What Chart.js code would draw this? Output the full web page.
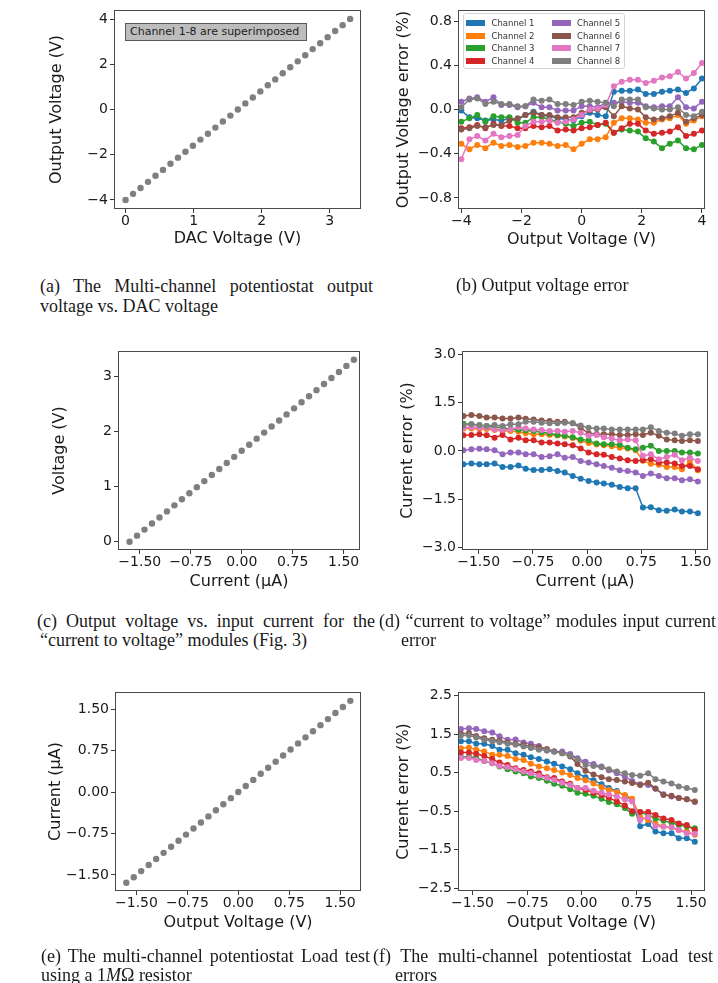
<!DOCTYPE html>
<html>
<head>
<meta charset="utf-8">
<script src="https://cdn.jsdelivr.net/npm/chart.js@4.4.0/dist/chart.umd.min.js"></script>
<style>
  body { margin:0; background:#fff; width:718px; height:983px; position:relative; overflow:hidden; }
  canvas { position:absolute; }
  .cap { position:absolute; font-family:"Liberation Serif", serif; font-size:18px; line-height:19px; color:#1a1a1a; white-space:nowrap; }
  .j { text-align:justify; text-align-last:justify; }
  #note { position:absolute; left:125px; top:23px; width:176px; height:16px; background:#bdbdbd; border:1px solid #5a5a5a;
          font-family:"DejaVu Sans", sans-serif; font-size:11px; line-height:16px; color:#222; padding-left:4px; box-sizing:content-box; }
  #legB { position:absolute; left:463px; top:13px; width:160px; height:54px; border:1px solid #d4d4d4; border-radius:3px; background:rgba(255,255,255,0.85); }
  .lp { position:absolute; width:19px; height:6px; }
  .lt { position:absolute; font-family:"DejaVu Sans", sans-serif; font-size:8.5px; color:#333; transform:translateY(-50%); white-space:nowrap; }
</style>
</head>
<body>
<canvas id="ca"></canvas>
<canvas id="cb"></canvas>
<canvas id="cc"></canvas>
<canvas id="cd"></canvas>
<canvas id="ce"></canvas>
<canvas id="cf"></canvas>

<div id="note">Channel 1-8 are superimposed</div>
<div id="legB"></div>

<div class="cap j" style="left:40px;top:277px;width:333px">(a) The Multi-channel potentiostat output</div>
<div class="cap" style="left:40px;top:297px">voltage vs. DAC voltage</div>
<div class="cap" style="left:456px;top:276px">(b) Output voltage error</div>

<div class="cap j" style="left:37px;top:612px;width:338px">(c) Output voltage vs. input current for the</div>
<div class="cap" style="left:40px;top:631px">“current to voltage” modules (Fig. 3)</div>
<div class="cap j" style="left:379px;top:612px;width:337px">(d) “current to voltage” modules input current</div>
<div class="cap" style="left:401px;top:631px">error</div>

<div class="cap j" style="left:41px;top:947px;width:329px">(e) The multi-channel potentiostat Load test</div>
<div class="cap" style="left:41px;top:966px">using a 1<i>M</i>Ω resistor</div>
<div class="cap j" style="left:373px;top:947px;width:340px">(f) The multi-channel potentiostat Load test</div>
<div class="cap" style="left:395px;top:966px">errors</div>

<script>
// (a) output voltage vs DAC voltage
const dacA = [0.00,0.11,0.22,0.33,0.44,0.55,0.66,0.77,0.88,0.99,1.10,1.21,1.32,1.43,1.54,1.65,1.76,1.87,1.98,2.09,2.20,2.31,2.42,2.53,2.64,2.75,2.86,2.97,3.08,3.19,3.30];
const outA = [-4.00,-3.73,-3.47,-3.20,-2.93,-2.67,-2.40,-2.13,-1.87,-1.60,-1.33,-1.07,-0.80,-0.53,-0.27,0.00,0.27,0.53,0.80,1.07,1.33,1.60,1.87,2.13,2.40,2.67,2.93,3.20,3.47,3.73,4.00];

// (b) output voltage error (%) per channel
const outB = [-4.00,-3.73,-3.47,-3.20,-2.93,-2.67,-2.40,-2.13,-1.87,-1.60,-1.33,-1.07,-0.80,-0.53,-0.27,0.00,0.27,0.53,0.80,1.07,1.33,1.60,1.87,2.13,2.40,2.67,2.93,3.20,3.47,3.73,4.00];
const b1 = [-0.01,-0.07,-0.08,-0.10,-0.09,-0.10,-0.08,-0.09,-0.05,-0.02,-0.05,-0.06,-0.08,-0.09,-0.10,-0.06,-0.03,-0.05,-0.06,0.16,0.17,0.17,0.18,0.14,0.14,0.16,0.17,0.18,0.15,0.19,0.28];
const b2 = [-0.31,-0.36,-0.32,-0.35,-0.30,-0.33,-0.32,-0.34,-0.33,-0.30,-0.30,-0.31,-0.33,-0.32,-0.36,-0.31,-0.27,-0.27,-0.25,-0.12,-0.08,-0.08,-0.09,-0.12,-0.12,-0.09,-0.08,-0.05,-0.13,-0.10,-0.06];
const b3 = [-0.11,-0.08,-0.05,-0.11,-0.06,-0.07,-0.07,-0.12,-0.12,-0.07,-0.07,-0.09,-0.11,-0.13,-0.15,-0.12,-0.11,-0.14,-0.13,-0.21,-0.18,-0.19,-0.20,-0.26,-0.29,-0.35,-0.31,-0.28,-0.35,-0.36,-0.32];
const b4 = [-0.17,-0.16,-0.14,-0.17,-0.13,-0.15,-0.15,-0.17,-0.17,-0.15,-0.16,-0.15,-0.19,-0.18,-0.19,-0.17,-0.16,-0.14,-0.12,-0.21,-0.17,-0.13,-0.13,-0.19,-0.22,-0.21,-0.20,-0.16,-0.24,-0.22,-0.19];
const b5 = [0.07,0.10,0.11,0.07,0.11,0.04,0.04,0.02,0.03,0.06,0.02,0.02,-0.01,-0.01,-0.01,0.03,0.03,0.02,0.06,0.06,0.07,0.06,0.06,0.03,0.02,0.03,0.03,0.11,0.02,0.01,0.07];
const b6 = [-0.18,-0.17,-0.15,-0.16,-0.14,-0.14,-0.10,-0.08,-0.05,-0.03,-0.05,-0.05,-0.07,-0.07,-0.07,-0.03,-0.01,0.00,0.02,-0.06,0.03,0.01,0.00,-0.07,-0.09,-0.08,-0.06,-0.03,-0.11,-0.08,-0.05];
const b7 = [-0.45,-0.27,-0.24,-0.28,-0.22,-0.25,-0.24,-0.23,-0.15,-0.11,-0.11,-0.10,-0.12,-0.11,-0.09,-0.05,0.00,0.01,0.04,0.21,0.25,0.27,0.27,0.24,0.26,0.29,0.30,0.34,0.28,0.33,0.42];
const b8 = [0.02,0.09,0.10,0.05,0.07,0.05,0.05,0.03,0.03,0.09,0.08,0.09,0.05,0.05,0.04,0.07,0.08,0.07,0.06,0.03,0.09,0.09,0.09,0.02,0.01,0.00,0.00,0.02,-0.05,-0.06,-0.02];

// (c) output voltage vs input current
const curC = [-1.65,-1.54,-1.43,-1.32,-1.21,-1.10,-0.99,-0.88,-0.77,-0.66,-0.55,-0.44,-0.33,-0.22,-0.11,0.00,0.11,0.22,0.33,0.44,0.55,0.66,0.77,0.88,0.99,1.10,1.21,1.32,1.43,1.54,1.65];
const voltC = [0.00,0.11,0.22,0.33,0.44,0.55,0.66,0.77,0.88,0.99,1.10,1.21,1.32,1.43,1.54,1.65,1.76,1.87,1.98,2.09,2.20,2.31,2.42,2.53,2.64,2.75,2.86,2.97,3.08,3.19,3.30];

// (d) input current error (%) per channel
const curD = [-1.71,-1.60,-1.49,-1.39,-1.28,-1.17,-1.06,-0.95,-0.85,-0.74,-0.63,-0.52,-0.41,-0.31,-0.20,-0.09,0.02,0.13,0.23,0.34,0.45,0.56,0.67,0.77,0.88,0.99,1.10,1.21,1.31,1.42,1.53];
const d1 = [-0.41,-0.39,-0.41,-0.41,-0.39,-0.50,-0.50,-0.45,-0.55,-0.59,-0.59,-0.57,-0.62,-0.67,-0.78,-0.86,-0.93,-0.98,-1.01,-1.05,-1.12,-1.16,-1.16,-1.76,-1.75,-1.84,-1.86,-1.82,-1.88,-1.88,-1.94];
const d2 = [0.70,0.70,0.68,0.68,0.65,0.62,0.62,0.60,0.55,0.52,0.52,0.50,0.48,0.45,0.40,0.32,0.25,0.20,0.18,0.15,0.10,0.08,0.02,-0.30,-0.40,-0.43,-0.50,-0.50,-0.57,-0.33,-0.60];
const d3 = [0.85,0.83,0.80,0.78,0.74,0.72,0.68,0.66,0.64,0.62,0.58,0.55,0.50,0.47,0.43,0.36,0.33,0.23,0.21,0.21,0.19,0.10,0.05,0.10,0.16,0.00,0.00,0.00,-0.05,-0.05,-0.08];
const d4 = [0.49,0.50,0.52,0.49,0.41,0.50,0.36,0.41,0.33,0.33,0.26,0.26,0.23,0.21,0.18,0.08,-0.05,-0.10,-0.12,-0.19,-0.23,-0.29,-0.31,-0.29,-0.26,-0.36,-0.36,-0.39,-0.47,-0.47,-0.57];
const d5 = [0.02,0.05,0.07,0.05,0.02,-0.10,-0.05,-0.05,-0.10,-0.10,-0.19,-0.16,-0.10,-0.21,-0.19,-0.31,-0.36,-0.41,-0.47,-0.52,-0.60,-0.62,-0.67,-0.78,-0.70,-0.78,-0.85,-0.85,-0.91,-0.88,-0.95];
const d6 = [1.09,1.12,1.09,1.04,1.04,1.01,1.01,1.04,1.00,0.98,0.95,0.93,0.91,0.91,0.86,0.72,0.55,0.53,0.52,0.52,0.50,0.50,0.52,0.50,0.57,0.47,0.36,0.33,0.31,0.33,0.31];
const d7 = [0.73,0.74,0.72,0.73,0.67,0.65,0.67,0.74,0.70,0.67,0.65,0.62,0.62,0.60,0.62,0.57,0.47,0.50,0.43,0.39,0.33,0.36,0.33,-0.15,-0.10,-0.26,-0.19,-0.12,-0.29,-0.21,-0.31];
const d8 = [0.81,0.83,0.81,0.78,0.81,0.78,0.83,0.83,0.91,0.91,0.88,0.86,0.86,0.88,0.86,0.79,0.72,0.70,0.70,0.67,0.67,0.67,0.67,0.67,0.74,0.62,0.57,0.54,0.47,0.52,0.52];

// (e) load test current vs output voltage
const voltE = [-1.65,-1.54,-1.43,-1.32,-1.21,-1.10,-0.99,-0.88,-0.77,-0.66,-0.55,-0.44,-0.33,-0.22,-0.11,0.00,0.11,0.22,0.33,0.44,0.55,0.66,0.77,0.88,0.99,1.10,1.21,1.32,1.43,1.54,1.65];
const curE = [-1.64,-1.54,-1.43,-1.32,-1.21,-1.10,-0.99,-0.88,-0.77,-0.66,-0.55,-0.44,-0.33,-0.22,-0.11,0.00,0.11,0.22,0.33,0.44,0.55,0.66,0.77,0.88,0.99,1.10,1.21,1.32,1.43,1.54,1.65];

// (f) load test current error (%) per channel
const voltF = [-1.66,-1.55,-1.45,-1.34,-1.23,-1.13,-1.02,-0.91,-0.80,-0.70,-0.59,-0.48,-0.38,-0.27,-0.16,-0.06,0.05,0.16,0.27,0.37,0.48,0.59,0.69,0.80,0.91,1.01,1.12,1.23,1.33,1.44,1.55];
const f1 = [1.31,1.31,1.25,1.25,1.19,1.09,1.09,1.00,0.96,0.90,0.85,0.79,0.73,0.66,0.59,0.48,0.38,0.30,0.20,0.10,0.02,-0.10,-0.21,-0.89,-0.83,-1.03,-1.07,-1.07,-1.20,-1.20,-1.29];
const f2 = [1.13,1.15,1.09,1.05,0.96,0.96,0.93,0.85,0.83,0.73,0.66,0.61,0.57,0.50,0.44,0.36,0.30,0.22,0.12,0.05,0.00,-0.08,-0.18,-0.65,-0.73,-0.82,-0.90,-0.92,-0.99,-1.03,-1.11];
const f3 = [0.90,0.92,0.88,0.80,0.74,0.66,0.59,0.53,0.48,0.40,0.36,0.29,0.21,0.16,0.07,-0.02,-0.05,-0.10,-0.18,-0.26,-0.32,-0.42,-0.57,-0.52,-0.60,-0.69,-0.75,-0.80,-0.86,-0.90,-0.94];
const f4 = [1.02,1.02,0.99,0.93,0.85,0.76,0.70,0.61,0.57,0.53,0.48,0.38,0.36,0.27,0.21,0.10,0.05,-0.02,-0.08,-0.15,-0.25,-0.35,-0.50,-0.52,-0.52,-0.60,-0.69,-0.73,-0.82,-0.86,-0.99];
const f5 = [1.63,1.65,1.63,1.57,1.54,1.44,1.35,1.36,1.28,1.25,1.19,1.07,1.05,1.05,0.98,0.87,0.78,0.72,0.66,0.56,0.48,0.40,0.28,0.20,0.18,0.08,-0.06,-0.12,-0.16,-0.19,-0.26];
const f6 = [1.51,1.52,1.45,1.39,1.35,1.33,1.28,1.25,1.22,1.18,1.16,1.11,1.05,1.00,0.92,0.72,0.55,0.45,0.38,0.33,0.31,0.27,0.23,0.18,0.24,0.09,-0.08,-0.10,-0.16,-0.19,-0.25];
const f7 = [0.88,0.88,0.83,0.80,0.74,0.67,0.64,0.59,0.53,0.48,0.42,0.36,0.31,0.24,0.18,0.10,0.10,0.03,-0.02,-0.07,-0.12,-0.20,-0.25,-0.73,-0.65,-0.89,-0.90,-0.92,-0.99,-1.07,-1.09];
const f8 = [1.46,1.47,1.41,1.35,1.31,1.29,1.25,1.22,1.18,1.14,1.09,1.07,1.05,1.00,0.94,0.85,0.70,0.67,0.64,0.59,0.53,0.48,0.44,0.42,0.48,0.33,0.27,0.22,0.14,0.10,0.05];

// tick labels
const ticksAx = [0, 1, 2, 3];
const ticksAy = [-4, -2, 0, 2, 4];
const ticksBx = [-4, -2, 0, 2, 4];
const ticksBy = [-0.8, -0.4, 0, 0.4, 0.8];
const ticksCur = [-1.5, -0.75, 0, 0.75, 1.5];
const ticksCy = [0, 1, 2, 3];
const ticksDy = [-3, -1.5, 0, 1.5, 3];
const ticksFy = [-2.5, -1.5, -0.5, 0.5, 1.5, 2.5];

const channels = ['Channel 1','Channel 2','Channel 3','Channel 4','Channel 5','Channel 6','Channel 7','Channel 8'];
const colors = ['#1f77b4','#ff7f0e','#2ca02c','#d62728','#9467bd','#8c564b','#e377c2','#7f7f7f'];

Chart.defaults.font.family = "'DejaVu Sans', sans-serif";

const YW = 110, XH = 60, PT = 14, PR = 20;

const frame = {
  id: 'frame',
  afterDraw(chart) {
    const a = chart.chartArea, ctx = chart.ctx;
    ctx.save();
    ctx.strokeStyle = '#4a4a4a';
    ctx.lineWidth = 1;
    ctx.strokeRect(a.left + 0.5, a.top + 0.5, a.right - a.left - 1, a.bottom - a.top - 1);
    ctx.restore();
  }
};

function fmt(dec) {
  return v => Number(v).toFixed(dec).replace('-', '\u2212');
}

function axis(o, isX) {
  return {
    type: 'linear', bounds: 'data', min: o.min, max: o.max,
    afterBuildTicks: s => { s.ticks = o.ticks.map(v => ({ value: v })); },
    afterFit: s => { if (isX) s.height = XH; else s.width = YW; },
    grid: { drawOnChartArea: false, drawTicks: true, tickLength: 4, tickColor: '#3a3a3a', tickWidth: 1 },
    border: { display: false },
    ticks: { autoSkip: false, maxRotation: 0, color: '#1a1a1a', font: { size: 14 }, padding: isX ? 0 : 2, callback: fmt(o.dec) },
    title: {
      display: true, text: o.title, color: '#1a1a1a', font: { size: 16 },
      padding: isX ? { top: 0, bottom: XH - o.tc - 9.6 } : { top: o.tc - 9.6, bottom: 0 }
    }
  };
}

function points(xs, ys) {
  return xs.map((x, i) => ({ x: x, y: ys[i] }));
}

function dots(xs, ys) {
  return [{ data: points(xs, ys), backgroundColor: '#7f7f7f', pointRadius: 3.2, pointBorderWidth: 0, showLine: false }];
}

function lines(xs, series) {
  return series.map((ys, i) => ({
    label: channels[i], data: points(xs, ys), showLine: true,
    borderColor: colors[i], backgroundColor: colors[i], pointBackgroundColor: colors[i],
    borderWidth: 1.5, pointRadius: 3, pointBorderWidth: 0, tension: 0, order: 8 - i
  }));
}

function makeChart(id, box, datasets, xa, ya) {
  const cv = document.getElementById(id);
  cv.width = box.R - box.L + YW + PR;
  cv.height = box.B - box.T + PT + XH;
  cv.style.left = (box.L - YW) + 'px';
  cv.style.top = (box.T - PT) + 'px';
  ya.tc = ya.tc - (box.L - YW);
  new Chart(cv, {
    type: 'scatter',
    data: { datasets: datasets },
    options: {
      responsive: false, animation: false, devicePixelRatio: 1,
      layout: { padding: { left: 0, top: PT, right: PR, bottom: 0 } },
      plugins: { legend: { display: false }, tooltip: { enabled: false } },
      scales: { x: axis(xa, true), y: axis(ya, false) }
    },
    plugins: [frame]
  });
}

makeChart('ca', { L: 114, T: 10, R: 361, B: 209 }, dots(dacA, outA),
  { min: -0.17, max: 3.46, ticks: ticksAx, dec: 0, title: 'DAC Voltage (V)', tc: 30 },
  { min: -4.4, max: 4.4, ticks: ticksAy, dec: 0, title: 'Output Voltage (V)', tc: 57 });

makeChart('cb', { L: 458, T: 10, R: 705, B: 209 }, lines(outB, [b1, b2, b3, b4, b5, b6, b7, b8]),
  { min: -4.11, max: 4.1, ticks: ticksBx, dec: 0, title: 'Output Voltage (V)', tc: 31 },
  { min: -0.9, max: 0.9, ticks: ticksBy, dec: 1, title: 'Output Voltage error (%)', tc: 403.5 });

makeChart('cc', { L: 118, T: 351, R: 360, B: 550 }, dots(curC, voltC),
  { min: -1.82, max: 1.74, ticks: ticksCur, dec: 2, title: 'Current (\u03bcA)', tc: 31.5 },
  { min: -0.15, max: 3.46, ticks: ticksCy, dec: 0, title: 'Voltage (V)', tc: 60 });

makeChart('cd', { L: 462, T: 351, R: 708, B: 550 }, lines(curD, [d1, d2, d3, d4, d5, d6, d7, d8]),
  { min: -1.73, max: 1.67, ticks: ticksCur, dec: 2, title: 'Current (\u03bcA)', tc: 31.5 },
  { min: -3.08, max: 3.11, ticks: ticksDy, dec: 1, title: 'Current error (%)', tc: 407.5 });

makeChart('ce', { L: 115, T: 692, R: 361, B: 891 }, dots(voltE, curE),
  { min: -1.816, max: 1.807, ticks: ticksCur, dec: 2, title: 'Output Voltage (V)', tc: 31.5 },
  { min: -1.79, max: 1.81, ticks: ticksCur, dec: 2, title: 'Current (\u03bcA)', tc: 55.5 });

makeChart('cf', { L: 458, T: 692, R: 705, B: 891 }, lines(voltF, [f1, f2, f3, f4, f5, f6, f7, f8]),
  { min: -1.70, max: 1.69, ticks: ticksCur, dec: 2, title: 'Output Voltage (V)', tc: 31.5 },
  { min: -2.57, max: 2.59, ticks: ticksFy, dec: 1, title: 'Current error (%)', tc: 403.5 });

// legend for (b): two columns, channels 1-4 then 5-8
const leg = document.getElementById('legB');
channels.forEach((name, i) => {
  const col = i < 4 ? 0 : 1, row = i % 4;
  const cy = 9 + row * 12.7;
  const p = document.createElement('div');
  p.className = 'lp';
  p.style.left = (2 + col * 86) + 'px';
  p.style.top = (cy - 3) + 'px';
  p.style.background = colors[i];
  leg.appendChild(p);
  const t = document.createElement('div');
  t.className = 'lt';
  t.style.left = (27.5 + col * 85.6) + 'px';
  t.style.top = cy + 'px';
  t.textContent = name;
  leg.appendChild(t);
});
</script>
</body>
</html>
